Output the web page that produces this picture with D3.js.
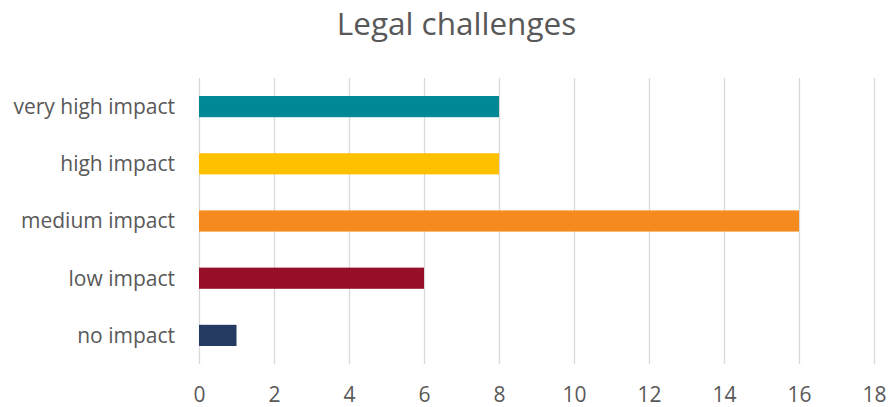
<!DOCTYPE html>
<html><head><meta charset="utf-8">
<script src="https://cdn.jsdelivr.net/npm/d3@7"></script>
<style>body{margin:0;background:#fff;} text{font-family:"Open Sans",sans-serif;fill:#595959;}</style>
</head><body><svg id="c" width="890" height="407"></svg>
<script>
const categories = ["very high impact","high impact","medium impact","low impact","no impact"];
const values = [8, 8, 16, 6, 1];
const colors = ["#008896","#FFC000","#F58A1F","#960E28","#253A61"];
const ticks = [0,2,4,6,8,10,12,14,16,18];
const title = "Legal challenges";

const svg = d3.select("#c");
const mL = 199, mR = 874, mT = 78, mB = 364;
const x = d3.scaleLinear().domain([0,18]).range([mL,mR]);
const y = d3.scaleBand().domain(categories).range([mT,mB]).paddingInner(0.63).paddingOuter(0.315);

svg.append("text").attr("x",456.5).attr("y",35).attr("text-anchor","middle")
  .style("font-size","31.5px").text(title);

const grid = svg.append("g").attr("transform",`translate(0,${mB})`)
  .call(d3.axisBottom(x).tickValues(ticks).tickSize(-(mB-mT)).tickFormat(d=>d).tickPadding(23));
grid.select(".domain").remove();
grid.selectAll(".tick line").attr("stroke","#d9d9d9").attr("stroke-width",1.3);
grid.selectAll(".tick text").style("font-size","21px").attr("fill","#595959").style("font-family","'Open Sans',sans-serif");

svg.append("g").selectAll("rect").data(values).join("rect")
  .attr("x",x(0)).attr("y",(d,i)=>y(categories[i]))
  .attr("width",d=>x(d)-x(0)).attr("height",y.bandwidth())
  .attr("fill",(d,i)=>colors[i]);

svg.append("g").selectAll("text").data(categories).join("text")
  .attr("x",175).attr("y",d=>y(d)+y.bandwidth()/2).attr("dy","0.35em")
  .attr("text-anchor","end").style("font-size","21px").text(d=>d);
</script></body></html>
